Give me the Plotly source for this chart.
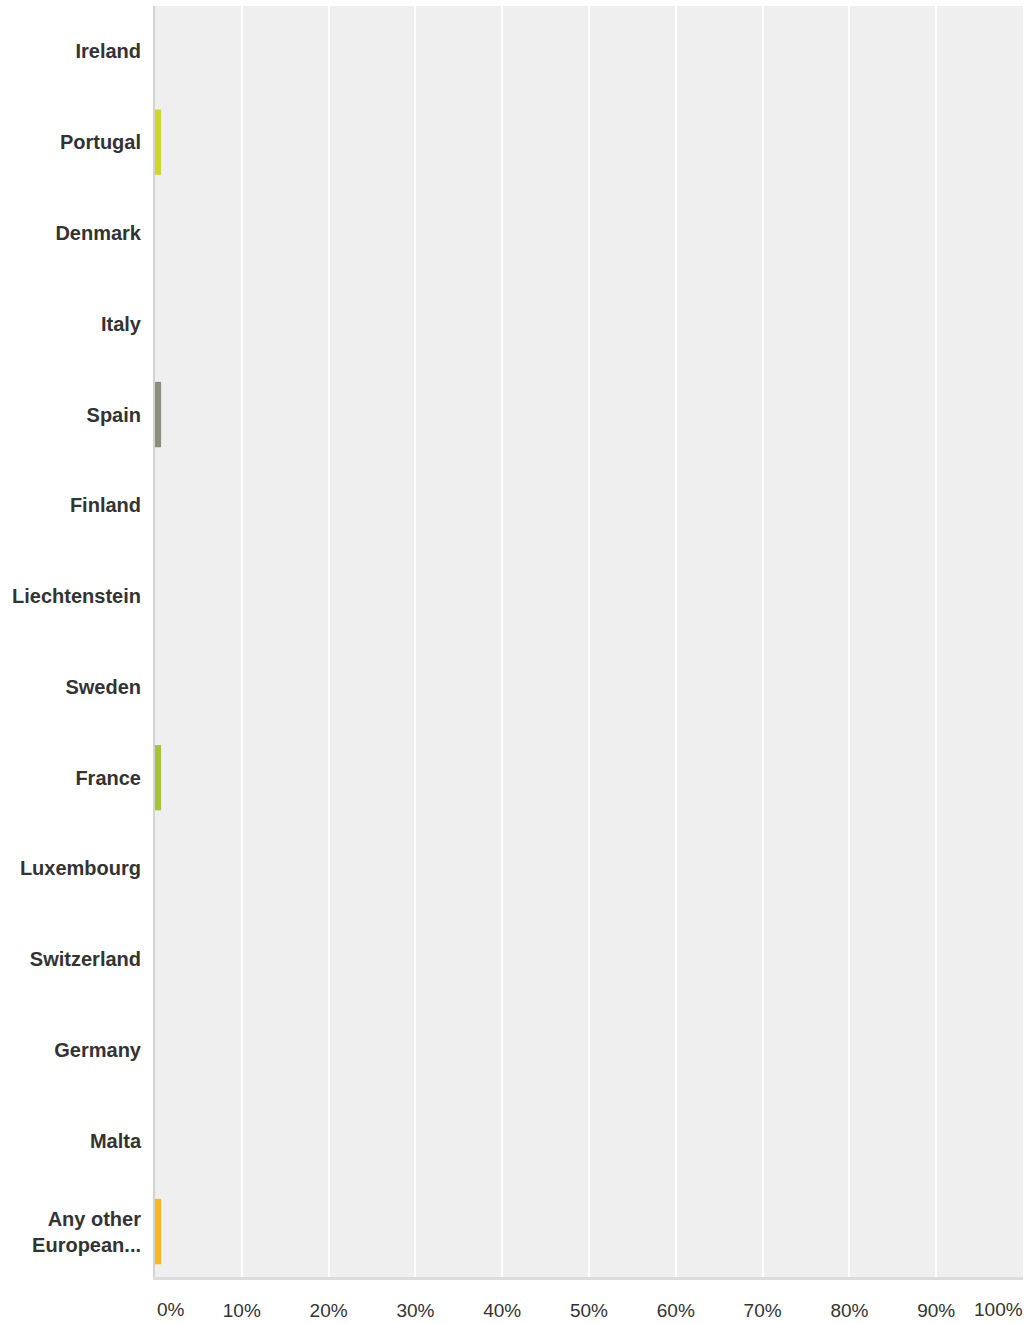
import plotly.graph_objects as go

countries = ["Ireland", "Portugal", "Denmark", "Italy", "Spain", "Finland",
             "Liechtenstein", "Sweden", "France", "Luxembourg", "Switzerland",
             "Germany", "Malta", "Any other<br>European..."]
values = [0, 0.7, 0, 0, 0.7, 0, 0, 0, 0.7, 0, 0, 0, 0, 0.7]
colors = ["#3b9ad9", "#d0d62c", "#7fb8e0", "#e0793f", "#8b8e7b", "#6ca1c9",
          "#9d6fb3", "#e24a55", "#a5c23b", "#4b6a8c", "#d34c8c", "#5fb07f",
          "#c49c6a", "#f8b422"]
tick_vals = [10, 20, 30, 40, 50, 60, 70, 80, 90]
tick_text = ["10%", "20%", "30%", "40%", "50%", "60%", "70%", "80%", "90%"]
edge_labels = [(0, "0%", "left"), (100, "100%", "right")]

fig = go.Figure(go.Bar(
    x=values, y=countries, orientation="h",
    marker=dict(color=colors, line=dict(width=0)),
    width=0.72,
))

fig.update_layout(
    width=1029, height=1323,
    margin=dict(l=155, r=6, t=6, b=46, autoexpand=False),
    plot_bgcolor="#efefef", paper_bgcolor="white",
    showlegend=False,
    font=dict(family="Liberation Sans, Arial, sans-serif", color="#333333"),
)
fig.update_xaxes(
    range=[0, 100], tickvals=tick_vals, ticktext=tick_text, automargin=False,
    showgrid=True, gridcolor="white", gridwidth=2,
    zeroline=False, showline=True, linecolor="#dcdcdc", linewidth=3,
    ticks="outside", ticklen=14, tickcolor="rgba(0,0,0,0)",
    tickfont=dict(size=19, color="#333333"), fixedrange=True,
)
fig.update_yaxes(
    autorange="reversed", showgrid=False, zeroline=False, automargin=False,
    showline=True, linecolor="#d3d3d3", linewidth=2,
    ticks="outside", ticklen=8, tickcolor="rgba(0,0,0,0)",
    tickfont=dict(size=20, color="#333333", family="Liberation Sans, Arial, sans-serif"),
    tickprefix="<b>", ticksuffix="</b>",
)
for xv, txt, anchor in edge_labels:
    fig.add_annotation(
        x=xv, y=0, xref="x", yref="paper", text=txt, showarrow=False,
        xanchor=anchor, yanchor="top", yshift=-20, xshift=0 if anchor == "left" else 2,
        font=dict(size=19, color="#333333"),
    )

fig.write_html(
    "out.html",
    config={"displayModeBar": False},
    post_script="document.body.style.margin='0';document.body.style.overflow='hidden';",
)
